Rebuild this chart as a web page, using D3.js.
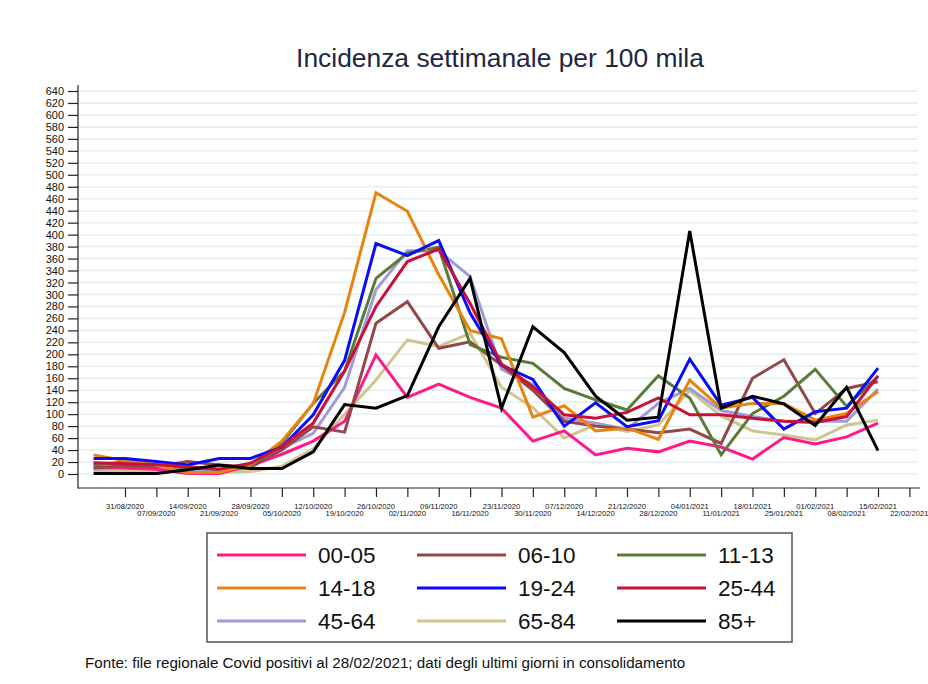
<!DOCTYPE html>
<html><head><meta charset="utf-8">
<script src="https://cdn.jsdelivr.net/npm/d3@7"></script>
<style>body{margin:0;background:#fff}svg{display:block;font-family:Arial,"Liberation Sans",sans-serif}</style>
</head><body><svg id="c" width="928" height="684"></svg>
<script>
const dates = ["24/08/2020","31/08/2020","07/09/2020","14/09/2020","21/09/2020","28/09/2020","05/10/2020","12/10/2020","19/10/2020","26/10/2020","02/11/2020","09/11/2020","16/11/2020","23/11/2020","30/11/2020","07/12/2020","14/12/2020","21/12/2020","28/12/2020","04/01/2021","11/01/2021","18/01/2021","25/01/2021","01/02/2021","08/02/2021","15/02/2021"];
const tickLabels = ["31/08/2020","07/09/2020","14/09/2020","21/09/2020","28/09/2020","05/10/2020","12/10/2020","19/10/2020","26/10/2020","02/11/2020","09/11/2020","16/11/2020","23/11/2020","30/11/2020","07/12/2020","14/12/2020","21/12/2020","28/12/2020","04/01/2021","11/01/2021","18/01/2021","25/01/2021","01/02/2021","08/02/2021","15/02/2021","22/02/2021"];
const yTicks = d3.range(0, 641, 20);
const seriesNames = ["00-05","06-10","11-13","14-18","19-24","25-44","45-64","65-84","85+"];
const seriesColors = ["#ff1a8a","#954646","#5a7a38","#e8840e","#0a0aff","#c8103a","#a09ad8","#cfc68e","#000000"];
const s0005 = [12,10,8,1,1,14,33,55,88,199,128,150,128,110,55,72,32,43,37,55,45,25,61,50,62,85];
const s0610 = [10,14,12,21,15,12,40,79,70,252,288,210,221,182,140,88,80,75,69,75,51,160,191,101,143,154];
const s1113 = [15,20,15,10,8,14,51,118,172,327,369,379,216,195,185,143,124,107,164,127,32,101,130,175,113,163];
const s1418 = [32,22,15,2,3,15,55,118,270,470,439,333,240,226,95,114,72,77,58,157,110,118,118,90,101,138];
const s1924 = [26,26,21,15,26,26,45,99,190,385,365,390,269,182,158,80,119,79,89,192,115,128,75,104,110,177];
const s2544 = [19,17,16,12,8,18,46,85,172,280,355,376,285,184,146,99,93,103,127,99,99,93,88,86,96,164];
const s4564 = [8,10,9,8,6,10,43,68,145,308,373,373,330,175,149,93,85,75,118,143,106,96,88,88,88,142];
const s6584 = [5,5,4,4,3,4,13,42,100,157,224,213,235,145,111,60,82,71,82,139,97,72,65,57,82,90];
const s85 = [1,1,1,7,15,9,9,37,116,110,131,246,327,110,246,203,130,90,95,406,110,130,117,81,145,39];
const seriesValues = [s0005,s0610,s1113,s1418,s1924,s2544,s4564,s6584,s85];

const parse = d3.timeParse("%d/%m/%Y");
const dts = dates.map(parse);
const tks = tickLabels.map(parse);
const svg = d3.select("#c");

const x = d3.scaleTime().domain([dts[0], dts[dts.length-1]]).range([93.6, 878]);
const y = d3.scaleLinear().domain([0, 640]).range([474, 91]);
const xL = 78, xR = 918, yB = 488, yT = 85;

// title
svg.append("text").attr("x", 500).attr("y", 67).attr("text-anchor","middle")
  .attr("font-size", 26.4).attr("fill", "#1c2744").text("Incidenza settimanale per 100 mila");

// grid
svg.append("g").selectAll("line").data(yTicks).join("line")
  .attr("x1", xL).attr("x2", xR).attr("y1", d=>y(d)).attr("y2", d=>y(d))
  .attr("stroke", "#e4edf1").attr("stroke-width", 1.5);

// y axis
const ya = svg.append("g").attr("transform", `translate(${xL},0)`)
  .call(d3.axisLeft(y).tickValues(yTicks).tickSize(10).tickPadding(4));
ya.select(".domain").remove();
ya.selectAll(".tick line").attr("stroke", "#222").attr("stroke-width", 1.2);
ya.selectAll(".tick text").attr("font-size", 11).attr("fill", "#111").attr("font-family","Arial,'Liberation Sans',sans-serif");
svg.append("line").attr("x1", xL).attr("x2", xL).attr("y1", yT).attr("y2", yB+0.5).attr("stroke","#222").attr("stroke-width",1.2);

// x axis
const xa = svg.append("g").attr("transform", `translate(0,${yB})`)
  .call(d3.axisBottom(x).tickValues(tks).tickSize(9).tickFormat(""));
xa.select(".domain").remove();
xa.selectAll(".tick line").attr("stroke", "#222").attr("stroke-width", 1.2);
svg.append("line").attr("x1", xL).attr("x2", xR+2).attr("y1", yB).attr("y2", yB).attr("stroke","#222").attr("stroke-width",1.2);
svg.append("g").selectAll("text").data(tks).join("text")
  .attr("x", d=>x(d)).attr("y", (d,i)=> i%2===0 ? 509 : 516)
  .attr("text-anchor","middle").attr("font-size", 7.6).attr("fill","#111")
  .text((d,i)=>tickLabels[i]);

// lines
const line = d3.line().x((d,i)=>x(dts[i])).y(d=>y(d));
const order = [7,6,0,1,2,3,4,5,8];
svg.append("g").selectAll("path").data(order).join("path")
  .attr("d", k=>line(seriesValues[k])).attr("fill","none")
  .attr("stroke", k=>seriesColors[k]).attr("stroke-width", 3).attr("stroke-linejoin","miter");

// legend
const lg = svg.append("g");
lg.append("rect").attr("x",207).attr("y",533).attr("width",585).attr("height",109)
  .attr("fill","#fff").attr("stroke","#555").attr("stroke-width",1.5);
seriesNames.forEach((n,i)=>{
  const c = i%3, r = Math.floor(i/3);
  const lx = 217 + c*200, ly = 555 + r*33;
  lg.append("line").attr("x1",lx).attr("x2",lx+89).attr("y1",ly).attr("y2",ly)
    .attr("stroke",seriesColors[i]).attr("stroke-width",3);
  lg.append("text").attr("x",lx+101).attr("y",ly+8).attr("font-size",22.5).attr("fill","#111").text(n);
});

// footer
svg.append("text").attr("x",85).attr("y",668).attr("font-size",15.2).attr("fill","#111")
  .text("Fonte: file regionale Covid positivi al 28/02/2021; dati degli ultimi giorni in consolidamento");
</script></body></html>
